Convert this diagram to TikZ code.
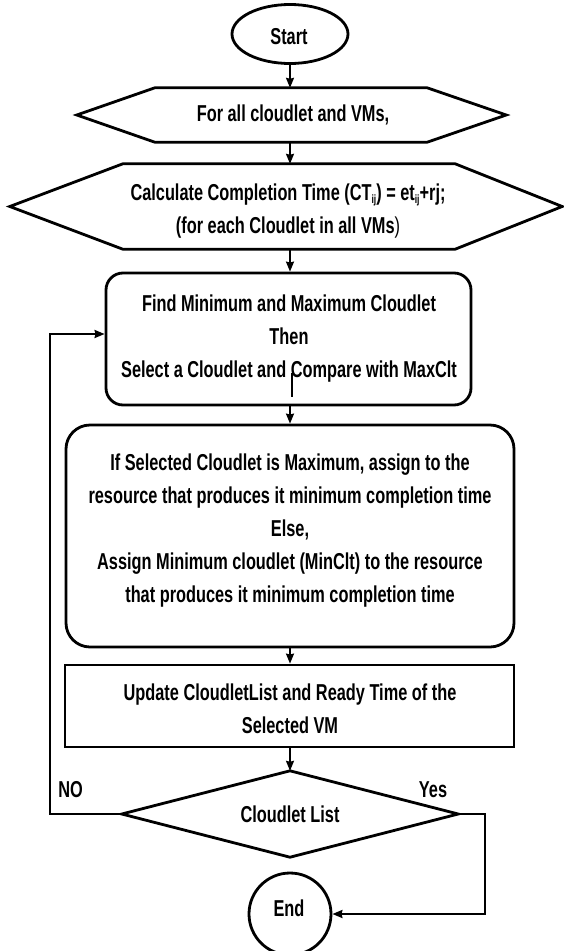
\documentclass[tikz,border=0pt]{standalone}
\usepackage{fontspec}
\newfontfamily\cond[FakeStretch=0.71]{Liberation Sans}
\usetikzlibrary{arrows.meta,shapes.geometric}
\newcommand\sbs[1]{\raisebox{-3pt}{\fontsize{12}{12}\selectfont #1}}
\begin{document}
\begin{tikzpicture}[x=1pt,y=-1pt,
  shp/.style={draw, line width=2.8pt, inner sep=0pt},
  outl/.style={line width=2.8pt, line join=miter},
  box/.style={inner sep=0pt},
  txt/.style={font=\cond\bfseries\fontsize{23}{33}\selectfont, align=center, inner sep=0pt},
  arr/.style={line width=1.8pt, -{Stealth[length=10pt,width=8pt,inset=1pt]}},
  lp/.style={line width=2.4pt, -{Stealth[length=10pt,width=8pt,inset=1pt]}},
  lbl/.style={font=\cond\bfseries\fontsize{23}{26}\selectfont, inner sep=0pt}]
\useasboundingbox (0,0) rectangle (563,951);
\fill[white] (0,0) rectangle (563,951);

% Start
\node[shp, ellipse, minimum width=116pt, minimum height=59pt] (start) at (290,34) {};
\node[txt] (tstart) at (289,36.5) {Start};

% Hexagon 1
\node[box, minimum width=429pt, minimum height=54pt] (h1) at (291.5,115) {};
\draw[outl] (h1.west) -- ([xshift=78pt]h1.north west) -- ([xshift=-79pt]h1.north east)
  -- (h1.east) -- ([xshift=-79pt]h1.south east) -- ([xshift=78pt]h1.south west) -- cycle;
\node[txt] (t1) at (293,115) {For all cloudlet and VMs,};

% Hexagon 2
\node[box, minimum width=552pt, minimum height=85pt] (h2) at (286,206.5) {};
\draw[outl] (h2.west) -- ([xshift=113pt]h2.north west) -- ([xshift=-107pt]h2.north east)
  -- (h2.east) -- ([xshift=-107pt]h2.south east) -- ([xshift=113pt]h2.south west) -- cycle;
\node[txt] (t2) at (288,211) {Calculate Completion Time (CT\sbs{ij}) = et\sbs{ij}+rj;\\(for each Cloudlet in all VMs{\mdseries)}};

% Box 1
\node[shp, rounded corners=17pt, minimum width=365pt, minimum height=132pt] (b1) at (288.5,339) {};
\node[txt] (tb1) at (289,339) {Find Minimum and Maximum Cloudlet\\Then\\Select a Cloudlet and Compare with MaxClt};
\draw[line width=1.2pt] (292,373) -- (292,397);

% Box 2
\node[shp, rounded corners=24pt, minimum width=448pt, minimum height=222pt] (b2) at (290,536) {};
\node[txt] (tb2) at (290,531) {If Selected Cloudlet is Maximum, assign to the\\resource that produces it minimum completion time\\Else,\\Assign Minimum cloudlet (MinClt) to the resource\\that produces it minimum completion time};

% Box 3
\node[shp, minimum width=449pt, minimum height=82pt] (b3) at (289.5,706) {};
\node[txt] (tb3) at (290,709) {Update CloudletList and Ready Time of the\\Selected VM};

% Decision
\node[box, minimum width=336pt, minimum height=86pt] (dia) at (290,814) {};
\draw[outl] (dia.north) -- (dia.east) -- (dia.south) -- (dia.west) -- cycle;
\node[txt] (tdia) at (290,814) {Cloudlet List};

% End
\node[shp, circle, minimum size=82pt] (end) at (290,914) {};
\node[txt] (tend) at (289,908) {End};

% Connectors
\draw[arr] (start.south) -- (start.south |- h1.north);
\draw[arr] (h1.south -| start.south) -- (h2.north -| start.south);
\draw[arr] (h2.south -| start.south) -- (b1.north -| start.south);
\draw[arr] (b1.south -| start.south) -- (b2.north -| start.south);
\draw[arr] (b2.south -| start.south) -- (b3.north -| start.south);
\draw[arr] (b3.south -| start.south) -- (dia.north);

\coordinate (nol) at (50,814);
\coordinate (yesr) at (485,814);
\draw[lp] (dia.west) -- (nol) |- ([yshift=5pt]b1.west);
\draw[lp] (dia.east) -- (yesr) |- (end.east);

\node[lbl] (no) at (70.5,790) {NO};
\node[lbl] (yes) at (433,790) {Yes};
\end{tikzpicture}
\end{document}
